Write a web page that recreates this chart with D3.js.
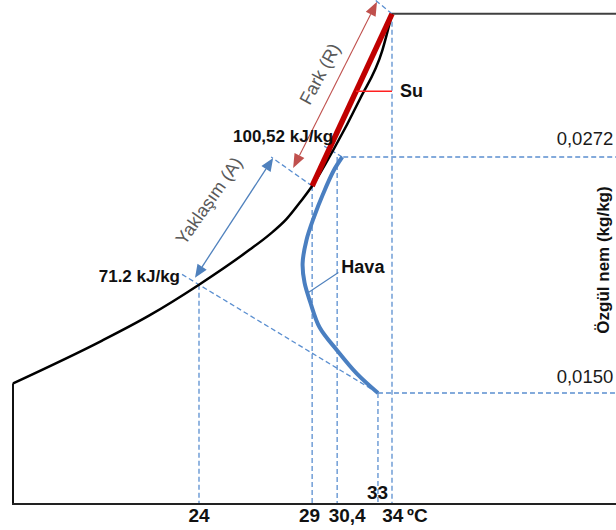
<!DOCTYPE html>
<html><head><meta charset="utf-8">
<script src="https://cdn.jsdelivr.net/npm/d3@7"></script>
<style>
body{margin:0;background:#fff}
svg{display:block}
text{font-family:"Liberation Sans",Arial,sans-serif}
</style>
</head><body>
<svg id="c" width="616" height="530"></svg>
<script>
// ---- data ----
const tempTicks   = [24, 29, 30.4, 33, 34];
const tempLabels  = ["24", "29", "30,4", "33", "34"];
const tickStateW  = [0.0206, 0.0257, 0.0272, 0.0150, 0.0346];
const humTicks    = [0.0272, 0.0150];
const humLabels   = ["0,0272", "0,0150"];
const satT = [18.7, 20.9, 22.3, 24, 26, 26.9, 27.7, 28.4, 29, 30.2, 31.8, 33.3, 34];
const satW = [0.0155, 0.0177, 0.0190, 0.0206, 0.0224, 0.0232, 0.0240, 0.0249, 0.0257, 0.0276, 0.0302, 0.0327, 0.0346];
const airT = [33, 31.6, 30.4, 29.4, 28.9, 28.6, 28.5, 28.7, 29.1, 29.6, 30.2, 30.7];
const airW = [0.0150, 0.0160, 0.0172, 0.0184, 0.0197, 0.0207, 0.0217, 0.0229, 0.0241, 0.0253, 0.0265, 0.0272];
const waterT = [29, 34];
const waterW = [0.0257, 0.0346];
const enthalpyLabels = ["71.2 kJ/kg", "100,52 kJ/kg"];
const unitLabel = "ºC";
const yAxisTitle = "Özgül nem (kg/kg)";
const seriesLabels = ["Su", "Hava"];
const dimLabels = ["Fark (R)", "Yaklaşım (A)"];

// ---- layout ----
const W = 616, H = 530, axisY = 504;
const x = d3.scalePow().exponent(-1).domain([24, 34]).range([199, 392]);
const y = d3.scaleLinear().domain([0.0150, 0.0272]).range([393, 157]);
const P = (t, w) => [x(t), y(w)];
const svg = d3.select("#c");

const dashCol = "#5b8fd0", blue = "#4a7fc1", blueArrow = "#4f81bd";
const redDark = "#c00000", redArrow = "#c0504d", gray = "#595959", ink = "#111";

const sat = satT.map((t, i) => P(t, satW[i]));
const air = airT.map((t, i) => P(t, airW[i]));
const water = waterT.map((t, i) => P(t, waterW[i]));
const airStart = air[0], airEnd = air[air.length - 1];
const p24 = P(tempTicks[0], tickStateW[0]);
const p29 = water[0], p34 = water[1];

// ---- dashed guide lines ----
const dash = svg.append("g").attr("fill", "none").attr("stroke", dashCol)
  .attr("stroke-width", 1.3).attr("stroke-dasharray", "5,3");
tempTicks.forEach((t, i) => {
  dash.append("line").attr("x1", x(t)).attr("x2", x(t))
    .attr("y1", y(tickStateW[i])).attr("y2", axisY);
});
const humStartX = [airEnd[0] + 1, airStart[0]];
humTicks.forEach((h, i) => {
  dash.append("line").attr("x1", humStartX[i]).attr("x2", W)
    .attr("y1", y(h)).attr("y2", y(h));
});
// enthalpy lines
const e1end = [p24[0] + 0.1 * (p24[0] - airStart[0]), p24[1] + 0.1 * (p24[1] - airStart[1])];
dash.append("line").attr("x1", airStart[0]).attr("y1", airStart[1]).attr("x2", e1end[0]).attr("y2", e1end[1]);
const dl = Math.hypot(p24[0] - airStart[0], p24[1] - airStart[1]);
const ux = (p24[0] - airStart[0]) / dl, uy = (p24[1] - airStart[1]) / dl;
const e2end = [airEnd[0] + ux * 24, airEnd[1] + uy * 24];
dash.append("line").attr("x1", airEnd[0]).attr("y1", airEnd[1]).attr("x2", e2end[0]).attr("y2", e2end[1]);
// extension lines for dimension arrows
dash.append("line").attr("x1", p29[0]).attr("y1", p29[1]).attr("x2", p29[0] - 41).attr("y2", p29[1] - 29);
dash.append("line").attr("x1", p34[0]).attr("y1", p34[1]).attr("x2", p34[0] - 17).attr("y2", p34[1] - 14);

// ---- frame ----
const frame = svg.append("g").attr("fill", "none").attr("stroke-width", 2);
frame.append("line").attr("x1", sat[0][0]).attr("x2", sat[0][0]).attr("y1", sat[0][1]).attr("y2", axisY).attr("stroke", "#111");
frame.append("line").attr("x1", sat[0][0] - 1).attr("x2", W).attr("y1", axisY).attr("y2", axisY).attr("stroke", "#222");
frame.append("line").attr("x1", p34[0]).attr("x2", W).attr("y1", p34[1]).attr("y2", p34[1]).attr("stroke", "#404040");

// ---- saturation curve ----
const satGen = d3.line().curve(d3.curveMonotoneX);
svg.append("path").attr("d", satGen(sat)).attr("fill", "none").attr("stroke", "#000").attr("stroke-width", 2.5);

// ---- water line ----
svg.append("path").attr("d", d3.line()(water)).attr("fill", "none").attr("stroke", redDark).attr("stroke-width", 5.5);

// ---- air curve ----
const airGen = d3.line().curve(d3.curveCatmullRom.alpha(0.5));
svg.append("path").attr("d", airGen(air)).attr("fill", "none").attr("stroke", blue).attr("stroke-width", 4);

// ---- dimension arrows ----
function dimArrow(a, b, color, w, hl, hw) {
  const dx = b[0] - a[0], dy = b[1] - a[1], L = Math.hypot(dx, dy), sx = dx / L, sy = dy / L;
  svg.append("line").attr("x1", a[0] + sx * hl).attr("y1", a[1] + sy * hl)
    .attr("x2", b[0] - sx * hl).attr("y2", b[1] - sy * hl).attr("stroke", color).attr("stroke-width", w);
  const tri = (tip, ex, ey) => {
    const bx = tip[0] + ex * hl, by = tip[1] + ey * hl;
    return `M${tip[0]},${tip[1]}L${bx - ey * hw},${by + ex * hw}L${bx + ey * hw},${by - ex * hw}Z`;
  };
  svg.append("path").attr("d", tri(a, sx, sy) + tri(b, -sx, -sy)).attr("fill", color);
  return [(a[0] + b[0]) / 2, (a[1] + b[1]) / 2];
}
const midA = dimArrow([p24[0] - 4, p24[1] - 7], [p29[0] - 39, p29[1] - 28], blueArrow, 1.3, 13, 5.5);
const midR = dimArrow([p29[0] - 19, p29[1] - 18], [p34[0] - 15, p34[1] - 12], redArrow, 1.1, 14, 5.5);

svg.append("text").text(dimLabels[0]).attr("fill", gray).attr("font-size", 18)
  .attr("text-anchor", "middle").attr("dominant-baseline", "central")
  .attr("transform", `translate(${midR[0] - 15},${midR[1] - 11}) rotate(-62)`);
svg.append("text").text(dimLabels[1]).attr("fill", gray).attr("font-size", 18)
  .attr("text-anchor", "middle").attr("dominant-baseline", "central")
  .attr("transform", `translate(${midA[0] - 25},${midA[1] - 17}) rotate(-55)`);

// ---- leaders & series labels ----
const suY = p29[1] + 0.55 * (p34[1] - p29[1]);
const suX = p29[0] + 0.55 * (p34[0] - p29[0]);
svg.append("line").attr("x1", suX).attr("x2", x(34)).attr("y1", suY).attr("y2", suY)
  .attr("stroke", "#ff2020").attr("stroke-width", 1.5);
svg.append("text").text(seriesLabels[0]).attr("x", x(34) + 8).attr("y", suY + 6)
  .attr("font-size", 18).attr("font-weight", "bold").attr("fill", ink);

const hv0 = P(28.8, 0.0202);
const hv1 = [hv0[0] + 30, hv0[1] - 20];
svg.append("line").attr("x1", hv0[0]).attr("y1", hv0[1]).attr("x2", hv1[0]).attr("y2", hv1[1])
  .attr("stroke", blueArrow).attr("stroke-width", 1.2);
svg.append("text").text(seriesLabels[1]).attr("x", hv1[0] + 3).attr("y", hv1[1] + 1)
  .attr("font-size", 18).attr("font-weight", "bold").attr("fill", ink);

// ---- enthalpy labels ----
svg.append("text").text(enthalpyLabels[0]).attr("x", p24[0] - 19).attr("y", p24[1] - 3)
  .attr("text-anchor", "end").attr("font-size", 17).attr("font-weight", "bold").attr("fill", ink);
svg.append("text").text(enthalpyLabels[1]).attr("x", airEnd[0] - 9).attr("y", airEnd[1] - 15)
  .attr("text-anchor", "end").attr("font-size", 17).attr("font-weight", "bold").attr("fill", ink);

// ---- x tick labels ----
const tickDx = [0, -2.6, 10, -0.5, 0.8];
const tickY = [521.5, 521.5, 521.5, 499, 521.5];
tempTicks.forEach((t, i) => {
  svg.append("text").text(tempLabels[i]).attr("x", x(t) + tickDx[i]).attr("y", tickY[i])
    .attr("text-anchor", "middle").attr("font-size", 19).attr("font-weight", "bold").attr("fill", ink);
});
svg.append("text").text(unitLabel).attr("x", x(34) + 15).attr("y", 521.5)
  .attr("font-size", 19).attr("font-weight", "bold").attr("fill", ink);

// ---- humidity labels ----
const humDy = [-12, -10];
humTicks.forEach((h, i) => {
  svg.append("text").text(humLabels[i]).attr("x", 556.7).attr("y", y(h) + humDy[i])
    .attr("font-size", 18.5).attr("fill", "#1a1a1a");
});
svg.append("text").text(yAxisTitle).attr("font-size", 17).attr("font-weight", "bold").attr("fill", ink)
  .attr("text-anchor", "middle").attr("transform", "translate(608.5,260) rotate(-90)");
</script>
</body></html>
